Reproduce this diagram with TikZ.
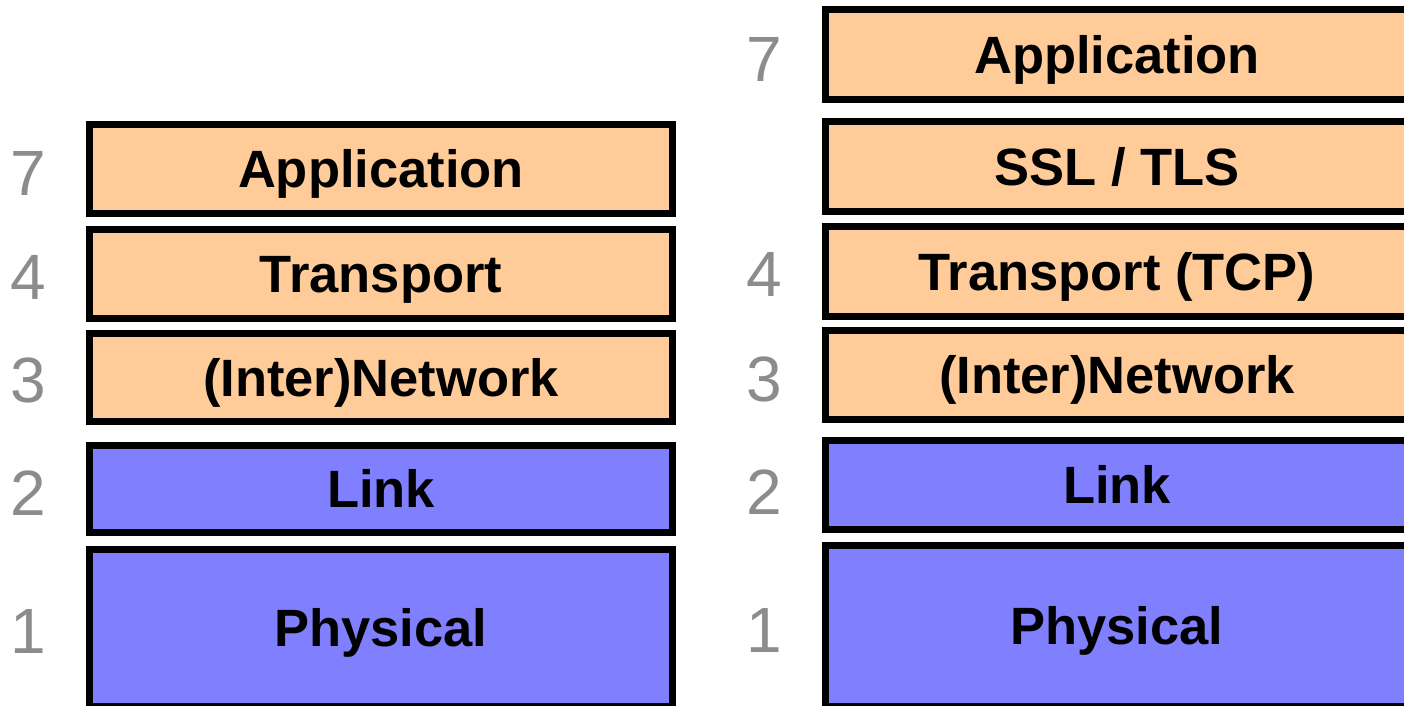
\documentclass[tikz,border=0pt]{standalone}
\usepackage{fontspec}
\setmainfont{Liberation Sans}
\definecolor{upper}{HTML}{FFCC99}
\definecolor{lower}{HTML}{8080FF}
\definecolor{numgray}{HTML}{8C8C8C}
\begin{document}
\begin{tikzpicture}[x=1pt,y=-1pt,
  layer/.style={draw=black,line width=7pt,rectangle,minimum width=583pt,inner sep=0pt,
    text height=37.5pt,text depth=0pt,
    font=\fontsize{52.5}{60}\selectfont\bfseries},
  up/.style={layer,fill=upper},
  low/.style={layer,fill=lower},
  num/.style={text=numgray,font=\fontsize{64}{70}\selectfont,inner sep=0pt,
    text height=46pt,text depth=0pt}]
\useasboundingbox (0,0) rectangle (1404,705);
\clip (0,0) rectangle (1404,705);
% left stack
\node[up,minimum height=89pt] (lapp) at (381,169) {Application};
\node[up,minimum height=89pt] (ltr) at (381,274) {Transport};
\node[up,minimum height=88pt] (lnet) at (381,377.5) {(Inter)Network};
\node[low,minimum height=87pt] (llink) at (381,489) {Link};
\node[low,minimum height=157pt] (lphy) at (381,628) {Physical};
\node[num] (ln7) at (28.5,172.5) {7};
\node[num] (ln4) at (28.5,276) {4};
\node[num] (ln3) at (28.5,379) {3};
\node[num] (ln2) at (28.5,492) {2};
\node[num] (ln1) at (28.5,630) {1};
% right stack
\node[up,minimum height=90pt] (rapp) at (1117,54.5) {Application};
\node[up,minimum height=90pt] (rssl) at (1117,166.5) {SSL / TLS};
\node[up,minimum height=90pt] (rtcp) at (1117,271.5) {Transport (TCP)};
\node[up,minimum height=89pt] (rnet) at (1117,375) {(Inter)Network};
\node[low,minimum height=89pt] (rlink) at (1117,485) {Link};
\node[low,minimum height=161pt] (rphy) at (1117,626) {Physical};
\node[num] (rn7) at (764,58) {7};
\node[num] (rn4) at (764,273) {4};
\node[num] (rn3) at (764,378) {3};
\node[num] (rn2) at (764,491) {2};
\node[num] (rn1) at (764,629) {1};
\end{tikzpicture}
\end{document}
